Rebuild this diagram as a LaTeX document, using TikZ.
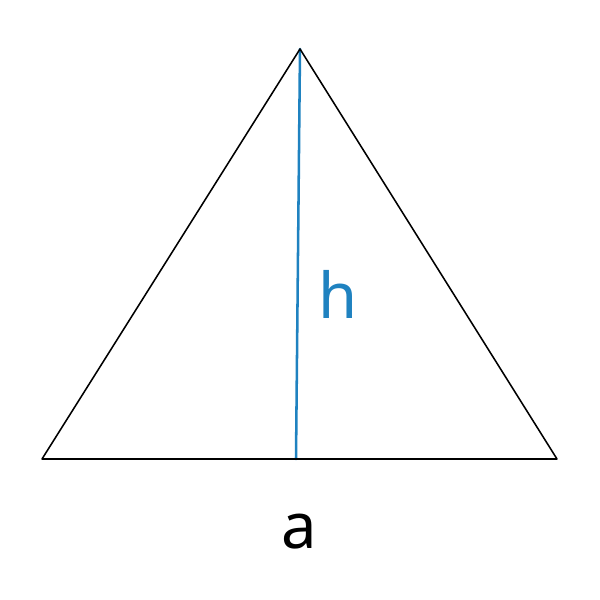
\documentclass[tikz,border=0pt]{standalone}
\usepackage{fontspec}
\setmainfont{Noto Sans}
\definecolor{hblue}{HTML}{1F82C0}
\begin{document}
\begin{tikzpicture}[x=0.025cm, y=-0.025cm, line join=round, line cap=round, font=\fontsize{45}{50}\selectfont]
		\useasboundingbox (0,0) rectangle (600,600);
		\coordinate (b) at (42,459);
		\coordinate (c) at (557,459);
		\coordinate (s) at (300,49);
		\coordinate (f) at (296,459);
		\draw[hblue, line width=1.8pt] (s) -- (f);
		\draw[line width=1.1pt] (b) -- (c) -- (s) -- cycle;
		\node[hblue] (h) at (338,294) {h};
		\node (a) at (299,532) {a};
	\end{tikzpicture}
\end{document}
